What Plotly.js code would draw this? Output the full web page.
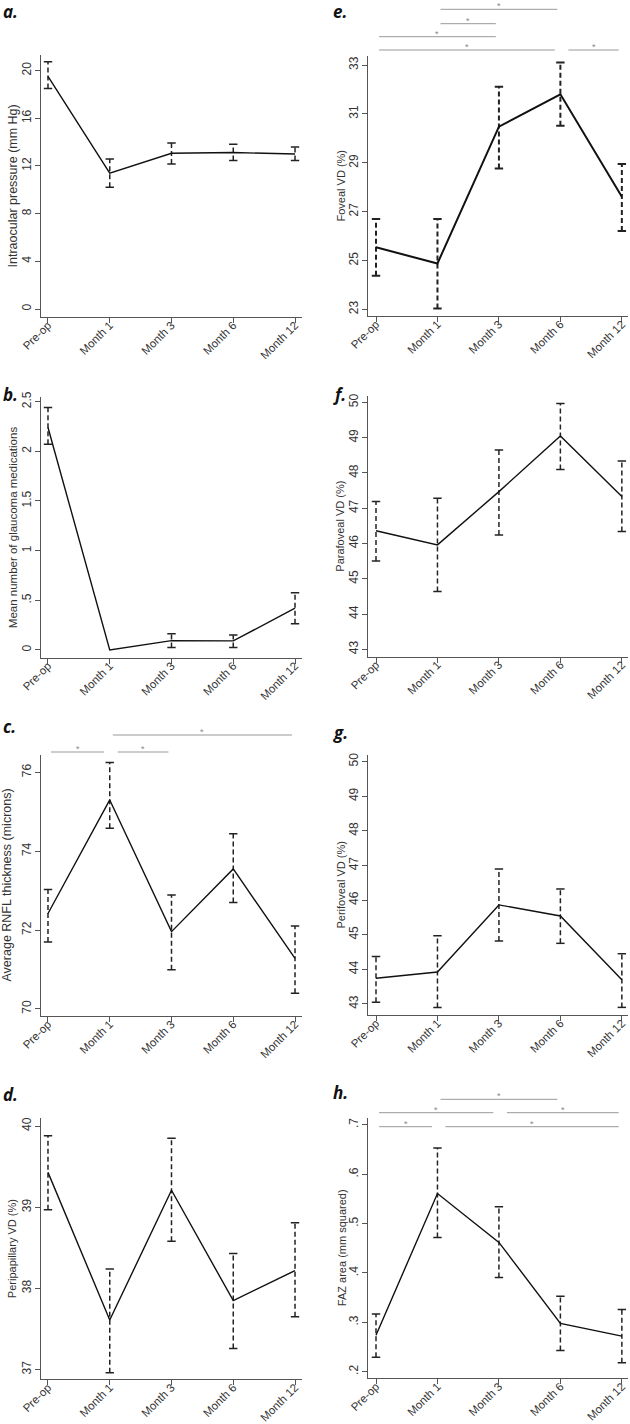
<!DOCTYPE html>
<html><head><meta charset="utf-8">
<script src="https://cdn.plot.ly/plotly-3.0.1.min.js"></script>
<style>html,body{margin:0;padding:0;background:#fff}#chart{width:630px;height:1424px}</style>
</head><body><div id="chart"></div>
<script>
// ---------- data ----------
const categories = ["Pre-op", "Month 1", "Month 3", "Month 6", "Month 12"];

const iopMean = [19.5, 11.4, 13.06, 13.12, 13.0];
const iopLo   = [18.5, 10.2, 12.17, 12.45, 12.45];
const iopHi   = [20.73, 12.58, 13.93, 13.82, 13.59];

const medsMean = [2.24, 0, 0.094, 0.091, 0.42];
const medsLo   = [2.07, 0, 0.024, 0.024, 0.265];
const medsHi   = [2.44, 0, 0.164, 0.151, 0.577];

const rnflMean = [72.42, 75.30, 71.96, 73.55, 71.28];
const rnflLo   = [71.70, 74.58, 70.99, 72.70, 70.40];
const rnflHi   = [73.03, 76.25, 72.89, 74.44, 72.10];

const ppvdMean = [39.43, 37.61, 39.21, 37.85, 38.22];
const ppvdLo   = [38.97, 36.96, 38.58, 37.26, 37.65];
const ppvdHi   = [39.88, 38.24, 39.85, 38.43, 38.81];

const fovMean = [25.54, 24.88, 30.48, 31.80, 27.61];
const fovLo   = [24.38, 23.04, 28.77, 30.52, 26.21];
const fovHi   = [26.70, 26.70, 32.11, 33.10, 28.95];

const paraMean = [46.36, 45.96, 47.47, 49.05, 47.33];
const paraLo   = [45.50, 44.64, 46.24, 48.10, 46.34];
const paraHi   = [47.19, 47.28, 48.65, 49.97, 48.34];

const periMean = [43.74, 43.92, 45.86, 45.54, 43.70];
const periLo   = [43.05, 42.90, 44.82, 44.75, 42.90];
const periHi   = [44.37, 44.97, 46.90, 46.32, 44.45];

const fazMean = [0.274, 0.561, 0.462, 0.298, 0.272];
const fazLo   = [0.229, 0.472, 0.391, 0.243, 0.218];
const fazHi   = [0.317, 0.653, 0.534, 0.353, 0.326];

// significant pairwise comparisons (*)
const sigRNFL   = [["Pre-op", "Month 1"], ["Month 1", "Month 3"], ["Month 1", "Month 12"]];
const sigFoveal = [["Month 1", "Month 6"], ["Month 1", "Month 3"], ["Pre-op", "Month 3"], ["Pre-op", "Month 6"], ["Month 6", "Month 12"]];
const sigFAZ    = [["Month 1", "Month 6"], ["Pre-op", "Month 3"], ["Month 3", "Month 12"], ["Pre-op", "Month 1"], ["Month 1", "Month 12"]];

// tick labels
const ticksIOP  = [0, 4, 8, 12, 16, 20];
const ticksMeds = [0, 0.5, 1, 1.5, 2, 2.5];
const tickTextMeds = ["0", ".5", "1", "1.5", "2", "2.5"];
const ticksRNFL = [70, 72, 74, 76];
const ticksPPVD = [37, 38, 39, 40];
const ticksFov  = [23, 25, 27, 29, 31, 33];
const ticksPara = [43, 44, 45, 46, 47, 48, 49, 50];
const ticksPeri = [43, 44, 45, 46, 47, 48, 49, 50];
const ticksFAZ  = [0.2, 0.3, 0.4, 0.5, 0.6, 0.7];
const tickTextFAZ = [".2", ".3", ".4", ".5", ".6", ".7"];

// ---------- panel styling ----------
const W = 630, H = 1424;
const panels = [
  {lab: "a.", mean: iopMean, lo: iopLo, hi: iopHi, title: "Intraocular pressure (mm Hg)", tfs: 12.5, tx: 12.5, col: 0,
   top: 55, bot: 317, yr: [-0.67, 21.3], tv: ticksIOP, lw: 1.4, labX: 1, labY: 12},
  {lab: "e.", mean: fovMean, lo: fovLo, hi: fovHi, title: "Foveal VD (%)", tfs: 11, tx: 340.5, col: 1,
   top: 56, bot: 316, yr: [22.73, 33.37], tv: ticksFov, lw: 2, labX: 331, labY: 12,
   sig: sigFoveal, sigY: [9.3, 23.7, 36.7, 50, 50]},
  {lab: "b.", mean: medsMean, lo: medsLo, hi: medsHi, title: "Mean number of glaucoma medications", tfs: 11.5, tx: 13, col: 0,
   top: 396.7, bot: 657.7, yr: [-0.078, 2.55], tv: ticksMeds, tt: tickTextMeds, lw: 1.4, labX: 1, labY: 394},
  {lab: "f.", mean: paraMean, lo: paraLo, hi: paraHi, title: "Parafoveal VD (%)", tfs: 11, tx: 340.5, col: 1,
   top: 395.7, bot: 656.7, yr: [42.79, 50.19], tv: ticksPara, lw: 1.4, labX: 331, labY: 394},
  {lab: "c.", mean: rnflMean, lo: rnflLo, hi: rnflHi, title: "Average RNFL thickness (microns)", tfs: 12.5, tx: 7, col: 0,
   top: 755, bot: 1016, yr: [69.82, 76.44], tv: ticksRNFL, lw: 1.4, labX: 1, labY: 726,
   sig: sigRNFL, sigY: [752, 752, 735]},
  {lab: "g.", mean: periMean, lo: periLo, hi: periHi, title: "Perifoveal VD (%)", tfs: 11, tx: 340.5, col: 1,
   top: 755, bot: 1015, yr: [42.68, 50.19], tv: ticksPeri, lw: 1.4, labX: 331, labY: 732},
  {lab: "d.", mean: ppvdMean, lo: ppvdLo, hi: ppvdHi, title: "Peripapillary VD (%)", tfs: 11, tx: 11.5, col: 0,
   top: 1118, bot: 1379.3, yr: [36.88, 40.1], tv: ticksPPVD, lw: 1.4, labX: 1, labY: 1094},
  {lab: "h.", mean: fazMean, lo: fazLo, hi: fazHi, title: "FAZ area (mm squared)", tfs: 11, tx: 342, col: 1,
   top: 1118, bot: 1378.3, yr: [0.1866, 0.714], tv: ticksFAZ, tt: tickTextFAZ, lw: 1.4, labX: 331, labY: 1092,
   sig: sigFAZ, sigY: [1099.3, 1112.7, 1112.7, 1126.7, 1126.7]}
];
const colX = [{d: [40.7 / W, 302 / W], r: [-0.118, 4.113]}, {d: [367.7 / W, 628 / W], r: [-0.135, 4.10]}];

const FONT = "Liberation Sans, Arial, sans-serif";
const traces = [];
const layout = {
  width: W, height: H, margin: {l: 0, r: 0, t: 0, b: 0},
  paper_bgcolor: "#fff", plot_bgcolor: "#fff", showlegend: false,
  font: {family: FONT, color: "#333"},
  shapes: [], annotations: []
};
const xIdx = categories.map((c, i) => i);

panels.forEach((p, k) => {
  const n = k + 1;
  const xa = n === 1 ? "x" : "x" + n, ya = n === 1 ? "y" : "y" + n;
  const xk = n === 1 ? "xaxis" : "xaxis" + n, yk = n === 1 ? "yaxis" : "yaxis" + n;
  const c = colX[p.col];
  layout[xk] = {
    domain: c.d, range: c.r, anchor: ya, tickmode: "array", tickvals: xIdx, ticktext: categories,
    tickangle: -45, ticks: "outside", ticklen: 5, tickcolor: "#555", showline: true, linecolor: "#555",
    linewidth: 1, showgrid: false, zeroline: false, ticklabelstandoff: -9,
    tickfont: {size: 11.5, color: "#333", family: FONT}
  };
  layout[yk] = {
    domain: [1 - p.bot / H, 1 - p.top / H], range: p.yr, anchor: xa, tickmode: "array", tickvals: p.tv,
    ticktext: p.tt || p.tv.map(String), tickangle: -90, ticks: "outside", ticklen: 5, tickcolor: "#555",
    showline: true, linecolor: "#555", linewidth: 1, showgrid: false, zeroline: false,
    ticklabelstandoff: -1,
    tickfont: {size: 12, color: "#333", family: FONT}
  };
  // y-axis title
  layout.annotations.push({text: p.title, xref: "paper", yref: "paper", x: p.tx / W,
    y: 1 - (p.top + p.bot) / 2 / H, textangle: -90, xanchor: "center", yanchor: "middle", showarrow: false,
    font: {size: p.tfs, color: "#333", family: FONT}});
  // error bars: dashed verticals
  const ex = [], ey = [];
  p.mean.forEach((m, i) => {
    if (p.hi[i] - p.lo[i] > 0) { ex.push(i, i, null); ey.push(p.lo[i], p.hi[i], null); }
  });
  traces.push({type: "scatter", mode: "lines", x: ex, y: ey, xaxis: xa, yaxis: ya, hoverinfo: "skip",
    line: {color: "#222", width: p.lw === 2 ? 2 : 1.5, dash: "5px,3px"}});
  // caps
  const cx = [], cy = [];
  p.mean.forEach((m, i) => {
    if (p.hi[i] - p.lo[i] > 0) { cx.push(i, i); cy.push(p.lo[i], p.hi[i]); }
  });
  traces.push({type: "scatter", mode: "markers", x: cx, y: cy, xaxis: xa, yaxis: ya, hoverinfo: "skip",
    marker: {symbol: "line-ew", size: 6, line: {color: "#222", width: p.lw === 2 ? 2 : 1.5}}});
  // mean line
  traces.push({type: "scatter", mode: "lines", x: xIdx, y: p.mean, xaxis: xa, yaxis: ya,
    line: {color: "#111", width: p.lw}, name: p.title});
  // panel label
  layout.annotations.push({text: p.lab, xref: "paper", yref: "paper", x: p.labX / W, y: 1 - p.labY / H,
    xanchor: "left", yanchor: "middle", showarrow: false,
    font: {family: "Open Sans, sans-serif", size: 17, color: "#111", weight: 700, style: "italic"}});
  // significance brackets
  if (p.sig) {
    p.sig.forEach((pair, j) => {
      const a = categories.indexOf(pair[0]), b = categories.indexOf(pair[1]);
      const lvl = p.sigY[j];
      let i0 = 0.05, i1 = 0.05;
      p.sig.forEach((q, m) => {
        if (m === j || p.sigY[m] !== lvl) return;
        if (categories.indexOf(q[1]) === a) i0 = 0.13;
        if (categories.indexOf(q[0]) === b) i1 = 0.09;
      });
      const yy = 1 - lvl / H;
      layout.shapes.push({type: "line", xref: xa, yref: "paper", x0: a + i0, x1: b - i1, y0: yy, y1: yy,
        line: {color: "#999", width: 1}});
      layout.annotations.push({text: "*", xref: xa, yref: "paper", x: (a + i0 + b - i1) / 2, y: yy,
        xanchor: "center", yanchor: "middle", yshift: 3, showarrow: false,
        font: {size: 9, color: "#888", family: FONT}});
    });
  }
});

Plotly.newPlot("chart", traces, layout, {staticPlot: true});
</script>
</body></html>
